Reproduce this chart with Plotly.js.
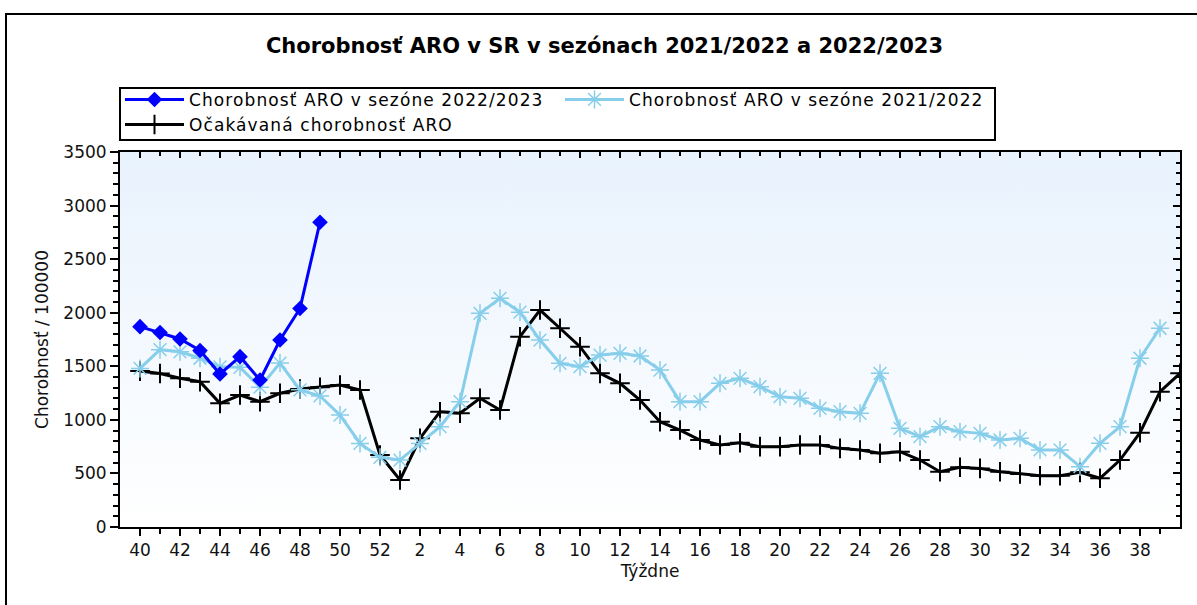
<!DOCTYPE html>
<html>
<head>
<meta charset="utf-8">
<script src="https://cdn.plot.ly/plotly-3.0.1.min.js"></script>
<style>
html,body{margin:0;padding:0;background:#fff;overflow:hidden;}
#chart{width:1197px;height:605px;}
.legendtext{letter-spacing:1.1px;}
</style>
</head>
<body>
<div id="chart"></div>
<script>
// Weeks of the season (index positions along the x axis)
const weeks = [40,41,42,43,44,45,46,47,48,49,50,51,52,1,2,3,4,5,6,7,8,9,10,11,12,13,14,15,16,17,18,19,20,21,22,23,24,25,26,27,28,29,30,31,32,33,34,35,36,37,38,39,40];

// Chorobnosť ARO v sezóne 2022/2023 (weeks 40–49)
const season2022_23 = [1870,1815,1755,1648,1428,1590,1372,1745,2040,2845];

// Chorobnosť ARO v sezóne 2021/2022 (weeks 40–39)
const season2021_22 = [1480,1655,1635,1575,1495,1490,1305,1530,1280,1223,1045,780,650,625,780,936,1170,1994,2134,2005,1745,1528,1496,1605,1621,1596,1465,1170,1170,1341,1388,1310,1216,1201,1108,1076,1061,1434,921,843,936,890,874,812,828,719,719,563,781,936,1575,1855];

// Očakávaná chorobnosť ARO (weeks 40–40)
const expected = [1455,1432,1388,1356,1154,1232,1170,1248,1288,1304,1325,1279,672,439,828,1076,1061,1201,1092,1776,2025,1855,1683,1434,1341,1185,983,905,812,765,787,750,750,765,765,734,719,688,703,625,516,557,547,516,495,479,479,510,455,625,880,1263,1434];

const idx = weeks.map((w,i)=>i);
const majorVals = idx.filter(i=>i%2===0 && i<=50);
const majorText = majorVals.map(i=>String(weeks[i]));

const FONT = 'DejaVu Sans, Verdana, sans-serif';

const traces = [
  {
    x: idx.slice(0, expected.length), y: expected, name: 'Očakávaná chorobnosť ARO',
    type: 'scatter', mode: 'lines+markers', legendrank: 3,
    line: {color: '#000000', width: 3},
    marker: {symbol: 'cross-thin-open', size: 14, color: '#000000', line: {color: '#000000', width: 2}}
  },
  {
    x: idx.slice(0, season2021_22.length), y: season2021_22, name: 'Chorobnosť ARO v sezóne 2021/2022',
    type: 'scatter', mode: 'lines+markers', legendrank: 2,
    line: {color: '#87ceeb', width: 3},
    marker: {symbol: 'asterisk-open', size: 15, color: '#87ceeb', line: {color: '#87ceeb', width: 1.5}}
  },
  {
    x: idx.slice(0, season2022_23.length), y: season2022_23, name: 'Chorobnosť ARO v sezóne 2022/2023',
    type: 'scatter', mode: 'lines+markers', legendrank: 1,
    line: {color: '#0000ff', width: 3},
    marker: {symbol: 'diamond', size: 12, color: '#0000ff'}
  },
  { x: [], y: [], xaxis: 'x2', yaxis: 'y2', showlegend: false, hoverinfo: 'skip', type: 'scatter' }
];

const gradSvg = '<svg xmlns="http://www.w3.org/2000/svg" width="100" height="100" preserveAspectRatio="none">' +
  '<defs><linearGradient id="g" x1="0" y1="0" x2="0" y2="1">' +
  '<stop offset="0" stop-color="#e8f2fd"/><stop offset="1" stop-color="#ffffff"/></linearGradient></defs>' +
  '<rect width="100" height="100" fill="url(#g)"/></svg>';

// plot area: x 120..1180 px, y 152..527 px
const pxX = px => (px - 120) / 1060;
const pxY = py => (527 - py) / 375;

const layout = {
  width: 1197, height: 605,
  margin: {l: 120, r: 17, t: 152, b: 78},
  paper_bgcolor: '#ffffff', plot_bgcolor: 'rgba(0,0,0,0)',
  font: {family: FONT, color: '#111', size: 17},
  title: {
    text: '<b>Chorobnosť ARO v SR v sezónach 2021/2022 a 2022/2023</b>',
    font: {family: FONT, size: 21, color: '#000'},
    x: 0.505, xref: 'container', xanchor: 'center', y: 0.925, yanchor: 'middle'
  },
  showlegend: true,
  legend: {
    orientation: 'h', x: 0, xanchor: 'left', y: 1.187, yanchor: 'top',
    bgcolor: 'rgba(0,0,0,0)', borderwidth: 0,
    font: {family: FONT, size: 17, color: '#000'},
    itemwidth: 59, entrywidth: 366, tracegroupgap: 0,
    itemclick: false, itemdoubleclick: false
  },
  xaxis: {
    range: [-1, 52], showgrid: false, zeroline: false,
    showline: true, linecolor: '#000', linewidth: 2,
    tickmode: 'array', tickvals: majorVals, ticktext: majorText,
    ticks: 'outside', ticklen: 7, tickwidth: 2, tickcolor: '#000',
    minor: {tickmode: 'array', tickvals: idx.slice(0,52), ticks: 'outside', ticklen: 5, tickwidth: 2, tickcolor: '#000', showgrid: false},
    tickfont: {family: FONT, size: 17, color: '#111'},
    title: {text: 'Týždne', font: {family: FONT, size: 17, color: '#111'}, standoff: 6}
  },
  yaxis: {
    range: [0, 3500], showgrid: false, zeroline: false,
    showline: true, linecolor: '#000', linewidth: 2,
    tickmode: 'linear', tick0: 0, dtick: 500,
    ticks: 'outside', ticklen: 8, tickwidth: 2, tickcolor: '#000',
    minor: {dtick: 100, ticks: 'outside', ticklen: 5, tickwidth: 2, tickcolor: '#000', showgrid: false},
    tickfont: {family: FONT, size: 17, color: '#111'},
    title: {text: 'Chorobnosť / 100000', font: {family: FONT, size: 17, color: '#111'}, standoff: 10}
  },
  xaxis2: {
    overlaying: 'x', side: 'top', range: [-1, 52], showgrid: false, zeroline: false,
    showline: true, linecolor: '#000', linewidth: 2, showticklabels: false,
    tickmode: 'array', tickvals: majorVals,
    ticks: 'inside', ticklen: 6, tickwidth: 2, tickcolor: '#000',
    minor: {tickmode: 'array', tickvals: idx.slice(0,52), ticks: 'inside', ticklen: 4, tickwidth: 2, tickcolor: '#000'}
  },
  yaxis2: {
    overlaying: 'y', side: 'right', range: [0, 3500], showgrid: false, zeroline: false,
    showline: true, linecolor: '#000', linewidth: 2, showticklabels: false,
    tickmode: 'linear', tick0: 0, dtick: 500,
    ticks: 'inside', ticklen: 7, tickwidth: 2, tickcolor: '#000',
    minor: {dtick: 100, ticks: 'inside', ticklen: 4, tickwidth: 2, tickcolor: '#000'}
  },
  images: [{
    source: 'data:image/svg+xml;charset=utf-8,' + encodeURIComponent(gradSvg),
    xref: 'paper', yref: 'paper', x: 0, y: 1, sizex: 1, sizey: 1,
    xanchor: 'left', yanchor: 'top', sizing: 'stretch', layer: 'below'
  }],
  shapes: [
    {
      type: 'rect', xref: 'paper', yref: 'paper',
      x0: pxX(6), x1: 1.2, y0: -0.5, y1: pxY(14),
      line: {color: '#000', width: 2}, fillcolor: 'rgba(0,0,0,0)', layer: 'above'
    },
    {
      type: 'rect', xref: 'paper', yref: 'paper',
      x0: pxX(120), x1: pxX(995), y0: pxY(140), y1: pxY(88),
      line: {color: '#000', width: 2}, fillcolor: '#ffffff', layer: 'above'
    }
  ]
};

Plotly.newPlot('chart', traces, layout, {displayModeBar: false, staticPlot: true});
</script>
</body>
</html>
